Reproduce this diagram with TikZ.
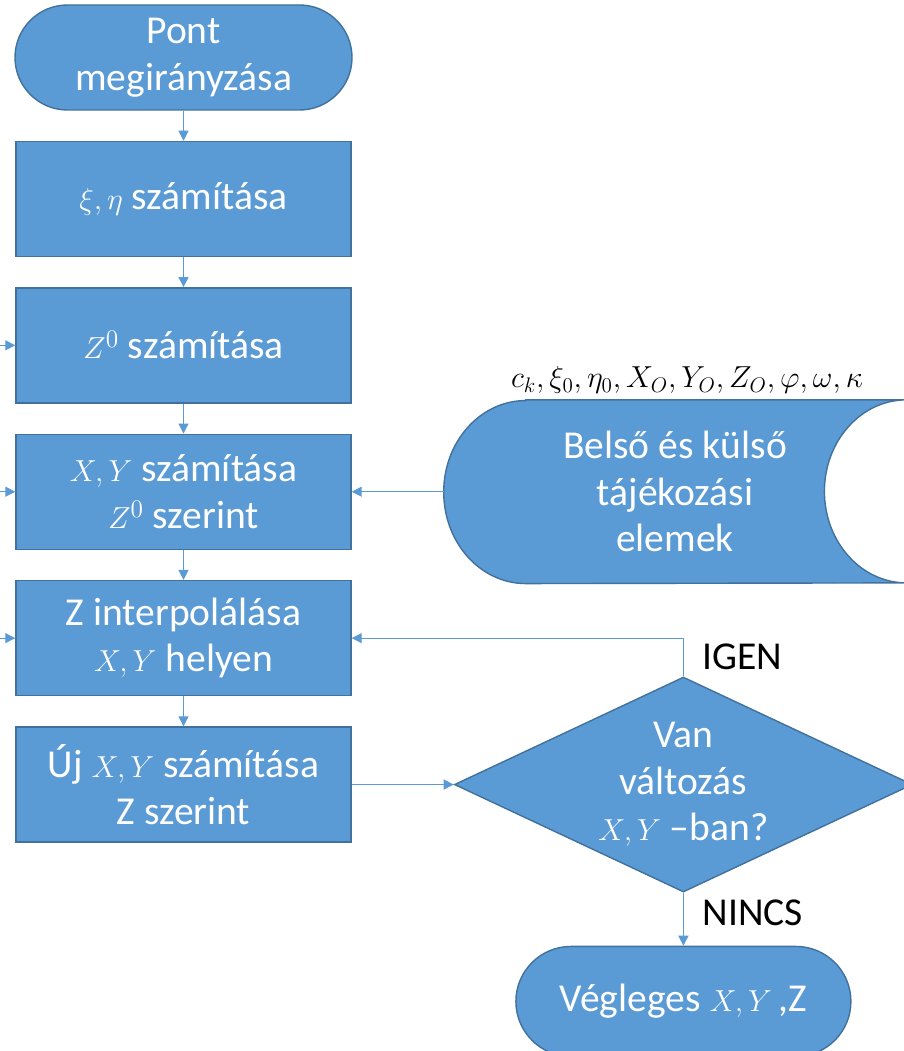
\documentclass[tikz,border=0pt]{standalone}
\usepackage{fontspec}
\setmainfont{Carlito}
\usetikzlibrary{arrows.meta,positioning,shapes.geometric,backgrounds}
\definecolor{flowblue}{HTML}{5B9BD5}
\definecolor{flowedge}{HTML}{41719C}
\newcommand{\mth}[1]{{\fontsize{19}{26.5}\selectfont$#1$}}

\begin{document}
\begin{tikzpicture}[
node distance=0.6cm and 1.84cm,
box/.style={draw=flowedge, line width=0.8pt, fill=flowblue, text=white, align=center, minimum width=6.7cm, minimum height=2.3cm, font=\fontsize{22.5}{26.5}\selectfont},
term/.style={box, minimum width=6.74cm, minimum height=2.1cm, rounded corners=1.05cm},
decision/.style={box, diamond, aspect=2.13, minimum width=9.16cm, minimum height=4.3cm, inner sep=0pt},
lbl/.style={font=\fontsize{22.5}{26.5}\selectfont, inner sep=0pt},
arrow/.style={-{Triangle[length=0.2cm,width=0.2cm]}, draw=flowblue, line width=0.6pt}
]
\useasboundingbox (0,0) rectangle (18.08,-21.02);
\node[term] (start) at (3.67,-1.15) {Pont\\megirányzása};
\node[box, below=of start] (xieta) {\mth{\xi,\eta} számítása};
\node[box, below=of xieta] (zzero) {\mth{Z^0} számítása};
\node[box, below=of zzero] (xyzero) {\mth{X,Y} számítása\\\mth{Z^0} szerint};
\node[box, below=of xyzero] (interp) {Z interpolálása\\\mth{X,Y} helyen};
\node[box, below=of interp] (newxy) {Új \mth{X,Y} számítása\\Z szerint};
\node[right=of xyzero, minimum width=9.24cm, minimum height=3.66cm, text=white, align=center, font=\fontsize{22.5}{26.5}\selectfont] (store) {Belső és külső\\tájékozási\\elemek};
\node[lbl, above=0.12cm of store.north, xshift=0.24cm, font=\fontsize{16.8}{20}\selectfont] (params) {$c_k,\xi_0,\eta_0,X_O,Y_O,Z_O,\varphi,\omega,\kappa$};
\node[decision, right=2.04cm of newxy] (check) {Van\\változás\\\mth{X,Y} --ban?};
\node[term, below=1.06cm of check, minimum width=6.7cm, minimum height=2.2cm, rounded corners=1.1cm] (final) {Végleges \mth{X,Y}\,,Z};
\node[lbl, anchor=west] (igen) at ([xshift=0.38cm, yshift=0.4cm]check.north) {IGEN};
\node[lbl, anchor=west] (nincs) at ([xshift=0.38cm, yshift=-0.4cm]check.south) {NINCS};
\coordinate (inzzero) at (0,0 |- zzero.west);
\coordinate (inxyzero) at (0,0 |- xyzero.west);
\coordinate (ininterp) at (0,0 |- interp.west);
% stored data shape
\begin{scope}[on background layer]
\draw[draw=flowedge, line width=0.8pt, fill=flowblue] ([xshift=1.64cm]store.north west) -- (store.north east) arc[start angle=90, end angle=270, x radius=1.64cm, y radius=1.83cm] -- ([xshift=1.64cm]store.south west) arc[start angle=270, end angle=90, x radius=1.64cm, y radius=1.83cm] -- cycle;
\end{scope}
\draw[arrow] (start) -- (xieta);
\draw[arrow] (xieta) -- (zzero);
\draw[arrow] (zzero) -- (xyzero);
\draw[arrow] (xyzero) -- (interp);
\draw[arrow] (interp) -- (newxy);
\draw[arrow] (store) -- (xyzero);
\draw[arrow] (newxy) -- (check);
\draw[arrow] (check.north) |- (interp.east);
\draw[arrow] (check) -- (final);
\draw[arrow] (inzzero) -- (zzero);
\draw[arrow] (inxyzero) -- (xyzero);
\draw[arrow] (ininterp) -- (interp);
\end{tikzpicture}
\end{document}
